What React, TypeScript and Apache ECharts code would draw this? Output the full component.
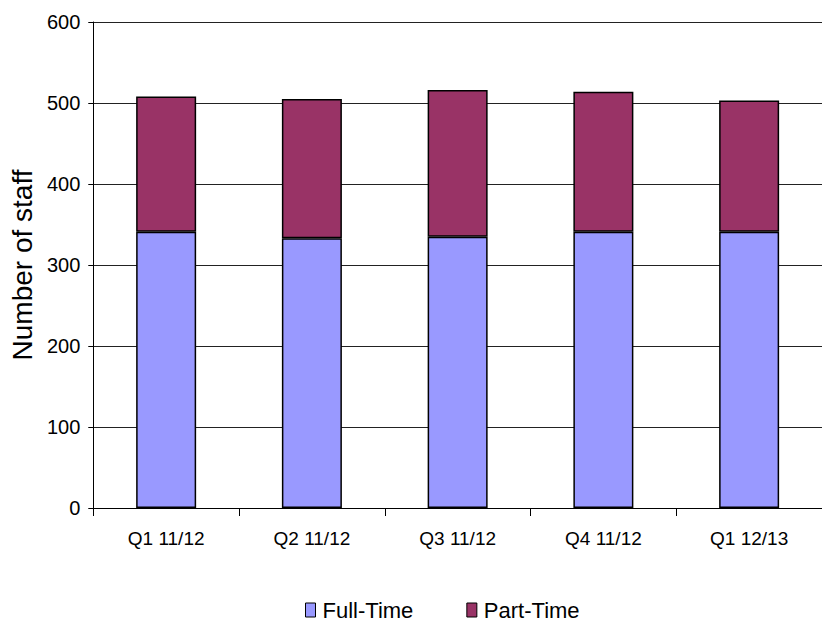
import React, { useEffect, useRef } from "react";
import * as echarts from "echarts";

const categories = ["Q1 11/12", "Q2 11/12", "Q3 11/12", "Q4 11/12", "Q1 12/13"];
const fullTime = [341, 333, 335, 341, 341];
const partTime = [167, 172, 181, 173, 162];
const yTicks = { min: 0, max: 600, interval: 100 };

const FONT = "'Liberation Sans', Arial, sans-serif";

export default function App() {
  const ref = useRef<HTMLDivElement>(null);
  useEffect(() => {
    if (!ref.current) return;
    const chart = echarts.init(ref.current, undefined, { renderer: "svg" });
    chart.setOption({
      animation: false,
      backgroundColor: "#fff",
      textStyle: { fontFamily: FONT },
      grid: { left: 90, top: 22, bottom: 118, right: -6, containLabel: false },
      legend: {
        left: 305,
        top: 599,
        padding: 0,
        icon: "rect",
        itemWidth: 10,
        itemHeight: 14,
        itemGap: 53,
        textStyle: { fontSize: 22, color: "#000", fontFamily: FONT, padding: [0, 0, 0, 2] },
        data: [
          { name: "Full-Time", itemStyle: { borderColor: "#000", borderWidth: 1 } },
          { name: "Part-Time", itemStyle: { borderColor: "#000", borderWidth: 1 } },
        ],
      },
      xAxis: {
        type: "category",
        data: categories,
        boundaryGap: true,
        axisLine: { lineStyle: { color: "#000", width: 1 } },
        axisTick: { show: true, length: 8, inside: false, lineStyle: { color: "#000" } },
        axisLabel: { fontSize: 19, color: "#000", margin: 21, fontFamily: FONT },
      },
      yAxis: {
        type: "value",
        min: yTicks.min,
        max: yTicks.max,
        interval: yTicks.interval,
        name: "Number of staff",
        nameLocation: "middle",
        nameGap: 57,
        nameTextStyle: { fontSize: 28, color: "#000", fontFamily: FONT },
        axisLine: { show: true, lineStyle: { color: "#000", width: 1 } },
        axisTick: { show: true, length: 5, lineStyle: { color: "#000" } },
        axisLabel: { fontSize: 20, color: "#000", margin: 13, fontFamily: FONT },
        splitLine: { show: true, lineStyle: { color: "#222", width: 1 } },
      },
      series: [
        {
          name: "Full-Time",
          type: "bar",
          stack: "total",
          data: fullTime,
          barWidth: 60,
          itemStyle: { color: "#9999FF", borderColor: "#000", borderWidth: 1.5 },
        },
        {
          name: "Part-Time",
          type: "bar",
          stack: "total",
          data: partTime,
          barWidth: 60,
          itemStyle: { color: "#993366", borderColor: "#000", borderWidth: 1.5 },
        },
      ],
    });
    return () => chart.dispose();
  }, []);
  return (
    <div
      ref={ref}
      style={{ position: "fixed", left: 0, top: 0, width: 822, height: 626, background: "#fff" }}
    />
  );
}
